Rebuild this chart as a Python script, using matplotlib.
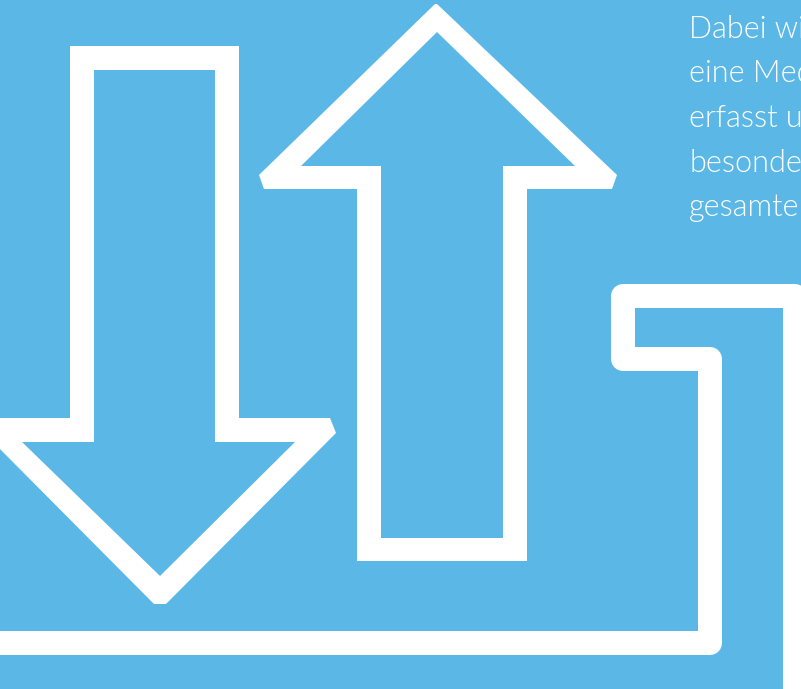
import matplotlib.pyplot as plt
from matplotlib.path import Path
from matplotlib.patches import PathPatch
import numpy as np

BG = "#5bb8e6"
W, H = 801, 689

# outlines in pixel coords (x right, y down)
down_outer = [(70, 46), (239, 46), (239, 418), (330, 418), (336, 433), (166, 604),
              (154, 604), (-16, 433), (-10, 418), (70, 418)]
down_inner = [(94, 70), (215, 70), (215, 442), (295, 442), (160, 576), (22, 442), (94, 442)]

up_outer = [(435, 4), (437, 4), (617, 175), (612, 189), (527, 189), (527, 561),
            (357, 561), (357, 189), (264, 189), (259, 175)]
up_inner = [(437, 32), (575, 166), (503, 166), (503, 538), (381, 538), (381, 166), (301, 166)]

# centre line of the stepped line along the bottom / right
step_line = [(-10, 643), (710, 643), (710, 358.5), (622.5, 358.5),
             (622.5, 296), (795, 296), (795, 700)]

text_lines = ["Dabei wi", "eine Med", "erfasst u", "besonde", "gesamte"]


def area(pts):
    p = np.array(pts, dtype=float)
    return 0.5 * np.sum(p[:, 0] * np.roll(p[:, 1], -1) - np.roll(p[:, 0], -1) * p[:, 1])


def ring(outer, inner):
    if np.sign(area(outer)) == np.sign(area(inner)):
        inner = inner[::-1]
    verts, codes = [], []
    for poly in (outer, inner):
        verts += list(poly) + [poly[0]]
        codes += [Path.MOVETO] + [Path.LINETO] * (len(poly) - 1) + [Path.CLOSEPOLY]
    return Path(verts, codes)


fig = plt.figure(figsize=(W / 100, H / 100), dpi=100, facecolor=BG)
ax = fig.add_axes([0, 0, 1, 1])
ax.set_facecolor(BG)
ax.set_xlim(0, W)
ax.set_ylim(H, 0)
ax.axis("off")

for outer, inner in [(down_outer, down_inner), (up_outer, up_inner)]:
    ax.add_patch(PathPatch(ring(outer, inner), facecolor="white", edgecolor="none"))

xs, ys = zip(*step_line)
ax.plot(xs, ys, color="white", lw=24 * 72 / 100, solid_joinstyle="round",
        solid_capstyle="butt")

for i, t in enumerate(text_lines):
    ax.text(689, 38 + i * 44.5, t, color="white", fontsize=22, family="Lato",
            weight=300, va="baseline", ha="left")

fig.savefig("out.png", dpi=100, facecolor=BG)
